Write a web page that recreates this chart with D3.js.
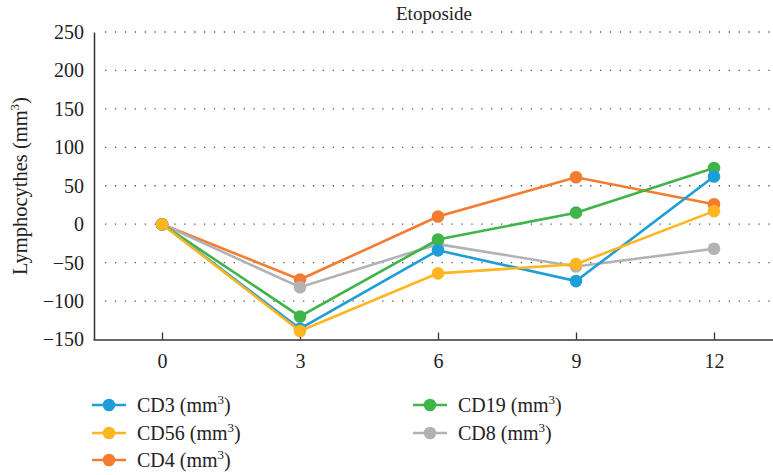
<!DOCTYPE html>
<html><head><meta charset="utf-8">
<script src="https://cdn.jsdelivr.net/npm/d3@7"></script>
<style>body{margin:0;background:#fff}svg{display:block}</style>
</head><body>
<svg id="c" width="773" height="475" font-family="'Liberation Serif','Times New Roman','DejaVu Serif','Noto Serif',Times,serif"></svg>
<script>
const FONT = "'Liberation Serif','Times New Roman','DejaVu Serif','Noto Serif',Times,serif";
const months = [0, 3, 6, 9, 12];
const seriesNames = ["CD3", "CD56", "CD4", "CD19", "CD8"];
const cd3  = [0, -136, -34, -74, 62];
const cd56 = [0, -139, -64, -52, 17];
const cd4  = [0, -72, 10, 61, 26];
const cd19 = [0, -120, -20, 15, 73];
const cd8  = [0, -82, -26, -55, -32];
const yTicks = [-150, -100, -50, 0, 50, 100, 150, 200, 250];
const colors = {CD3:"#1e9dd8", CD56:"#fdb620", CD4:"#f47c30", CD19:"#3fb449", CD8:"#b2b2b4"};
const values = {CD3:cd3, CD56:cd56, CD4:cd4, CD19:cd19, CD8:cd8};
const drawOrder = ["CD4", "CD8", "CD19", "CD3", "CD56"];

const svg = d3.select("#c");
const x = d3.scaleLinear().domain([-1.5, 13.5]).range([93, 783]);
const y = d3.scaleLinear().domain([-150, 250]).range([339.5, 32]);

// grid
svg.append("g").selectAll("line").data(yTicks.filter(t => t > -150)).join("line")
  .attr("x1", 105).attr("x2", 773).attr("y1", d => y(d)).attr("y2", d => y(d))
  .attr("stroke", "#555").attr("stroke-width", 1.3).attr("stroke-dasharray", "1.3,8.6");

// axes
const yAxis = svg.append("g").attr("transform", `translate(94,0)`)
  .call(d3.axisLeft(y).tickValues(yTicks).tickSize(0).tickPadding(10).tickFormat(d => d < 0 ? "\u2212" + Math.abs(d) : d));
yAxis.attr("font-family", FONT).attr("font-size", 20);
yAxis.select(".domain").attr("stroke", "#333").attr("stroke-width", 1.5);
yAxis.selectAll("text").attr("fill", "#222");

const xAxis = svg.append("g").attr("transform", `translate(0,${y(-150)})`)
  .call(d3.axisBottom(x).tickValues(months).tickSizeInner(-7).tickSizeOuter(0).tickPadding(14));
xAxis.attr("font-family", FONT).attr("font-size", 20);
xAxis.select(".domain").attr("stroke", "#333").attr("stroke-width", 1.5);
xAxis.selectAll(".tick line").attr("stroke", "#333").attr("stroke-width", 1.3);
xAxis.selectAll("text").attr("fill", "#222");

// title
svg.append("text").attr("x", 434).attr("y", 20).attr("text-anchor", "middle").attr("font-size", 19).attr("fill", "#222").text("Etoposide");

// y label
const yl = svg.append("text").attr("transform", "translate(27,186) rotate(-90)").attr("text-anchor", "middle").attr("font-size", 20.5).attr("fill", "#222");
yl.append("tspan").text("Lymphocythes (mm");
yl.append("tspan").attr("font-size", 13).attr("dy", -8).text("3");
yl.append("tspan").attr("dy", 8).text(")");

// series
const line = d3.line().x((d, i) => x(months[i])).y(d => y(d));
drawOrder.forEach(name => {
  const g = svg.append("g");
  g.append("path").datum(values[name]).attr("d", line).attr("fill", "none")
    .attr("stroke", colors[name]).attr("stroke-width", 2.6);
  g.selectAll("circle").data(values[name]).join("circle")
    .attr("cx", (d, i) => x(months[i])).attr("cy", d => y(d)).attr("r", 6.3).attr("fill", colors[name]);
});

// legend
const legendPos = [[92, 405], [92, 433], [92, 460], [413, 405], [413, 433]];
seriesNames.forEach((name, i) => {
  const [lx, ly] = legendPos[i];
  const g = svg.append("g").attr("transform", `translate(${lx},${ly})`);
  g.append("line").attr("x1", 0).attr("x2", 34).attr("stroke", colors[name]).attr("stroke-width", 2.6);
  g.append("circle").attr("cx", 17).attr("r", 6.3).attr("fill", colors[name]);
  const t = g.append("text").attr("x", 45).attr("y", 7).attr("font-size", 20).attr("fill", "#222");
  t.append("tspan").text(name + " (mm");
  t.append("tspan").attr("font-size", 13).attr("dy", -8).text("3");
  t.append("tspan").attr("dy", 8).text(")");
});
</script>
</body></html>
